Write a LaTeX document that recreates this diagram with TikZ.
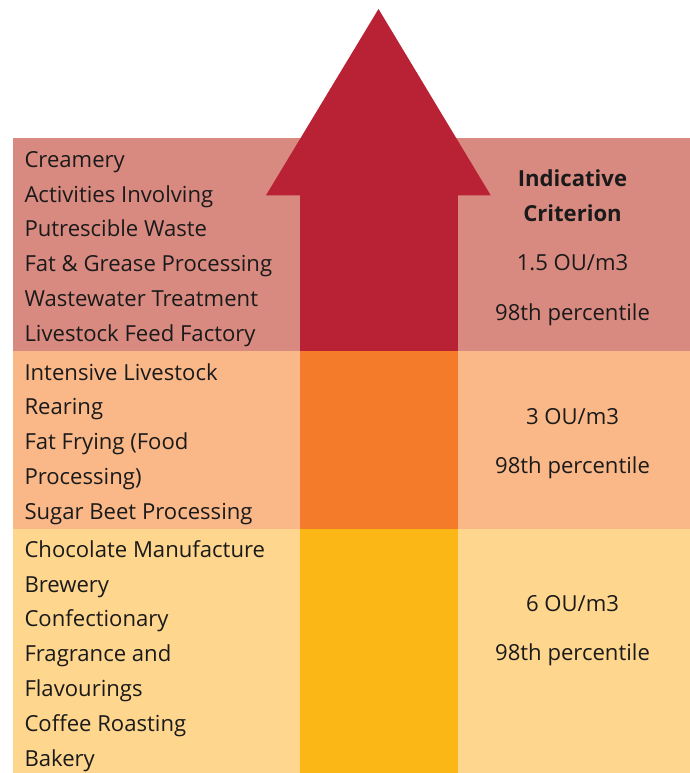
\documentclass[tikz,border=0pt]{standalone}
\usepackage{fontspec}
\setmainfont{Open Sans}
\definecolor{bandA}{HTML}{D98A80}
\definecolor{bandB}{HTML}{FAB888}
\definecolor{bandC}{HTML}{FED68E}
\definecolor{arrRed}{HTML}{B92234}
\definecolor{arrOrange}{HTML}{F47B2A}
\definecolor{arrYellow}{HTML}{FBB715}
\definecolor{txt}{HTML}{1A1A1A}
\begin{document}
\begin{tikzpicture}[x=1pt,y=-1pt,
  lbl/.style={anchor=base west, inner sep=0pt, font=\fontsize{22.1}{26}\selectfont, text=txt},
  crit/.style={anchor=base, inner sep=0pt, font=\fontsize{22.1}{26}\selectfont, text=txt},
  critb/.style={crit, font=\fontsize{22.1}{26}\selectfont\bfseries}]
\useasboundingbox (0,0) rectangle (690,773);
% bands
\fill[bandA] (13,138) rectangle (690,351);
\fill[bandB] (13,351) rectangle (690,529);
\fill[bandC] (13,529) rectangle (690,773);
% arrow shaft segments
\fill[arrYellow] (300,529) rectangle (458,773);
\fill[arrOrange] (300,351) rectangle (458,529);
\fill[arrRed] (300,194) rectangle (458,351);
% arrow head
\fill[arrRed] (266,195.3) -- (378.5,9) -- (490.7,195.3) -- cycle;
% left labels, top band
\node[lbl] (a1) at (24.3,167.3) {Creamery};
\node[lbl] (a2) at (24.3,202.1) {Activities Involving};
\node[lbl] (a3) at (24.3,236.8) {Putrescible Waste};
\node[lbl] (a4) at (24.3,271.6) {Fat \& Grease Processing};
\node[lbl] (a5) at (24.3,306.3) {Wastewater Treatment};
\node[lbl] (a6) at (24.3,341.1) {Livestock Feed Factory};
% middle band
\node[lbl] (b1) at (24.3,380) {Intensive Livestock};
\node[lbl] (b2) at (24.3,414.8) {Rearing};
\node[lbl] (b3) at (24.3,449.6) {Fat Frying (Food};
\node[lbl] (b4) at (24.3,484.4) {Processing)};
\node[lbl] (b5) at (24.3,519.2) {Sugar Beet Processing};
% bottom band
\node[lbl] (c1) at (24.3,557.3) {Chocolate Manufacture};
\node[lbl] (c2) at (24.3,592.1) {Brewery};
\node[lbl] (c3) at (24.3,626.9) {Confectionary};
\node[lbl] (c4) at (24.3,661.7) {Fragrance and};
\node[lbl] (c5) at (24.3,696.5) {Flavourings};
\node[lbl] (c6) at (24.3,731.3) {Coffee Roasting};
\node[lbl] (c7) at (24.3,766.1) {Bakery};
% right column
\node[critb] (r1) at (572.5,186.7) {Indicative};
\node[critb] (r2) at (572.5,221.7) {Criterion};
\node[crit] (r3) at (572.5,270.7) {1.5 OU/m3};
\node[crit] (r4) at (572.5,320.7) {98th percentile};
\node[crit] (s1) at (572.5,424) {3 OU/m3};
\node[crit] (s2) at (572.5,473.3) {98th percentile};
\node[crit] (t1) at (572.5,611.7) {6 OU/m3};
\node[crit] (t2) at (572.5,660.7) {98th percentile};
\end{tikzpicture}
\end{document}
